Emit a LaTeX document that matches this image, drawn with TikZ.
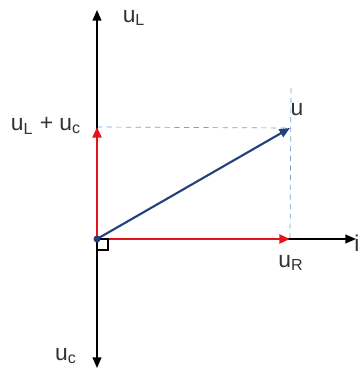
\documentclass[tikz,border=0pt]{standalone}
\usepackage{fontspec}
\setmainfont{Liberation Sans}
\usetikzlibrary{arrows.meta,positioning}
\definecolor{vred}{HTML}{E5141B}
\definecolor{vblue}{HTML}{22407E}
\definecolor{dash}{HTML}{6FA3D8}
\definecolor{lbl}{HTML}{333333}
\tikzset{
  ax/.style={-{Triangle[length=6pt,width=5pt]},thick,draw=black},
  rv/.style={-{Triangle[length=6pt,width=5pt]},line width=1.4pt,draw=vred},
  bv/.style={-{Triangle[length=6pt,width=5pt]},line width=1.2pt,draw=vblue},
  guide/.style={dashed,thin,draw=dash,dash pattern=on 3pt off 2.5pt},
  lab/.style={text=lbl,font=\fontsize{13}{15}\selectfont,inner sep=1pt},
}

\begin{document}
\begin{tikzpicture}[x=0.02cm,y=-0.02cm]
\useasboundingbox (0,0) rectangle (363,374);
% points
\coordinate (O) at (97,239);
\coordinate (top) at (97,10);
\coordinate (bot) at (97,368);
\coordinate (iend) at (356,239);
\coordinate (ulc) at (97,127);
\coordinate (ur) at (290,239);
\coordinate (u) at (290,128);
\coordinate (vtop) at (291,88);
% guides
\draw[guide] (ulc) -- (u);
\draw[guide] (vtop) -- (ur);
% axes
\draw[ax] (O) -- (top);
\draw[ax] (O) -- (bot);
\draw[ax] (O) -- (iend);
% phasors
\draw[rv] (O) -- (ulc);
\draw[rv] (O) -- (ur);
\draw[bv] (O) -- (u);
\draw[thick] (O) ++(0,0) rectangle ++(11,11);
\fill[vblue] (O) circle (3.5);
% labels
\node[lab] (lUL) at (134,18) {u\textsubscript{L}};
\node[lab] (lSum) at (46,126) {u\textsubscript{L} + u\textsubscript{c}};
\node[lab] (lU) at (297,110) {u};
\node[lab] (lI) at (357,243) {i};
\node[lab] (lUR) at (291,263) {u\textsubscript{R}};
\node[lab] (lUC) at (66,356) {u\textsubscript{c}};
\end{tikzpicture}
\end{document}
